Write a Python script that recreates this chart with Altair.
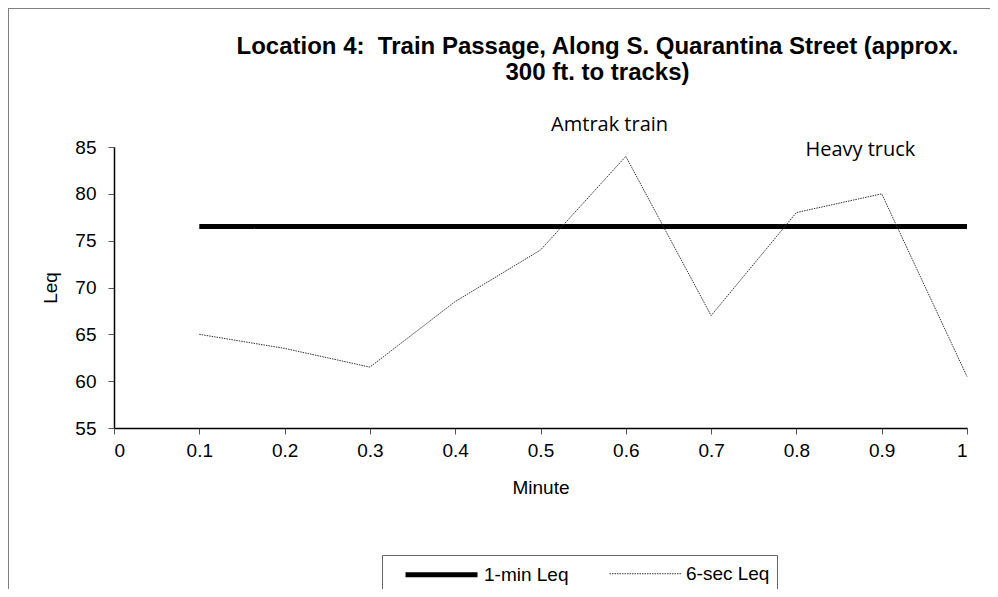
import altair as alt
import pandas as pd

minutes = [0.1, 0.2, 0.3, 0.4, 0.5, 0.6, 0.7, 0.8, 0.9, 1.0]
six_sec = [65.0, 63.5, 61.5, 68.5, 74.0, 84.0, 67.0, 78.0, 80.0, 60.5]
one_min = [76.5] * 10
x_ticks = [0, 0.1, 0.2, 0.3, 0.4, 0.5, 0.6, 0.7, 0.8, 0.9, 1.0]
y_ticks = [55, 60, 65, 70, 75, 80, 85]
notes = ["Amtrak train", "Heavy truck"]
note_x = [0.581, 0.875]
note_y = [87.35, 84.7]
series_names = ["1-min Leq", "6-sec Leq"]

FONT = "Liberation Sans"

rows = []
for m, v in zip(minutes, one_min):
    rows.append({"Minute": m, "Leq": v, "series": series_names[0]})
for m, v in zip(minutes, six_sec):
    rows.append({"Minute": m, "Leq": v, "series": series_names[1]})
df = pd.DataFrame(rows)
notes_df = pd.DataFrame({"label": notes, "x": note_x, "y": note_y})

xs = alt.Scale(domain=[0, 1], nice=False, zero=False)
ys = alt.Scale(domain=[55, 85], nice=False, zero=False)

frame = alt.Chart(pd.DataFrame({"a": [0]})).mark_rect(
    fill=None, stroke="#808080", strokeWidth=2
).encode(
    x=alt.value(-106), x2=alt.value(900), y=alt.value(-139), y2=alt.value(460)
)

leg = dict(title=None, orient="none", legendX=268, legendY=408, direction="horizontal")

lines = alt.Chart(df).mark_line(clip=False).encode(
    x=alt.X("Minute:Q", scale=xs,
            axis=alt.Axis(values=x_ticks, title="Minute", grid=False,
                          labelExpr="datum.value == 0 ? '0' : datum.value == 1 ? '1' : format(datum.value, '.1f')")),
    y=alt.Y("Leq:Q", scale=ys,
            axis=alt.Axis(values=y_ticks, title="Leq", grid=False)),
    color=alt.Color("series:N",
                    scale=alt.Scale(domain=series_names, range=["#000000", "#333333"]),
                    legend=alt.Legend(**leg, symbolType="M-3.6,0H3.6",
                                      symbolSize=400, labelFontSize=19, labelFont=FONT,
                                      labelColor="black", strokeColor="#666666",
                                      padding=7, columnPadding=26, labelOffset=30,
                                      symbolOffset=40)),
    strokeWidth=alt.StrokeWidth("series:N",
                                scale=alt.Scale(domain=series_names, range=[5, 1]),
                                legend=alt.Legend(**leg)),
    strokeDash=alt.StrokeDash("series:N",
                              scale=alt.Scale(domain=series_names, range=[[1, 0], [1.5, 1]]),
                              legend=alt.Legend(**leg)),
)

texts = alt.Chart(notes_df).mark_text(fontSize=20, font="Open Sans", color="black").encode(
    x=alt.X("x:Q", scale=xs), y=alt.Y("y:Q", scale=ys), text="label:N"
)

chart = alt.layer(frame, lines, texts).properties(
    width=853, height=281,
    padding={"left": 106, "top": 139, "right": 23, "bottom": 161},
    autosize=alt.AutoSizeParams(type="none"),
    title=alt.TitleParams(
        ["Location 4:\u00a0\u00a0Train Passage, Along S. Quarantina Street (approx.", "300 ft. to tracks)"],
        font=FONT, fontSize=24, fontWeight="bold", color="black",
        anchor="middle", dx=57, offset=0, dy=78, lineHeight=26,
    ),
).configure_view(stroke=None).configure_axis(
    labelFont=FONT, labelFontSize=19, labelColor="black",
    titleFont=FONT, titleFontSize=19, titleColor="black", titleFontWeight="normal",
    domainColor="black", domainWidth=1.5, tickColor="#555555", tickSize=6,
).configure_axisX(titlePadding=18, labelPadding=7).configure_axisY(titlePadding=14, labelPadding=12)

chart.save("out.html", embed_options={"renderer": "svg", "actions": False})
